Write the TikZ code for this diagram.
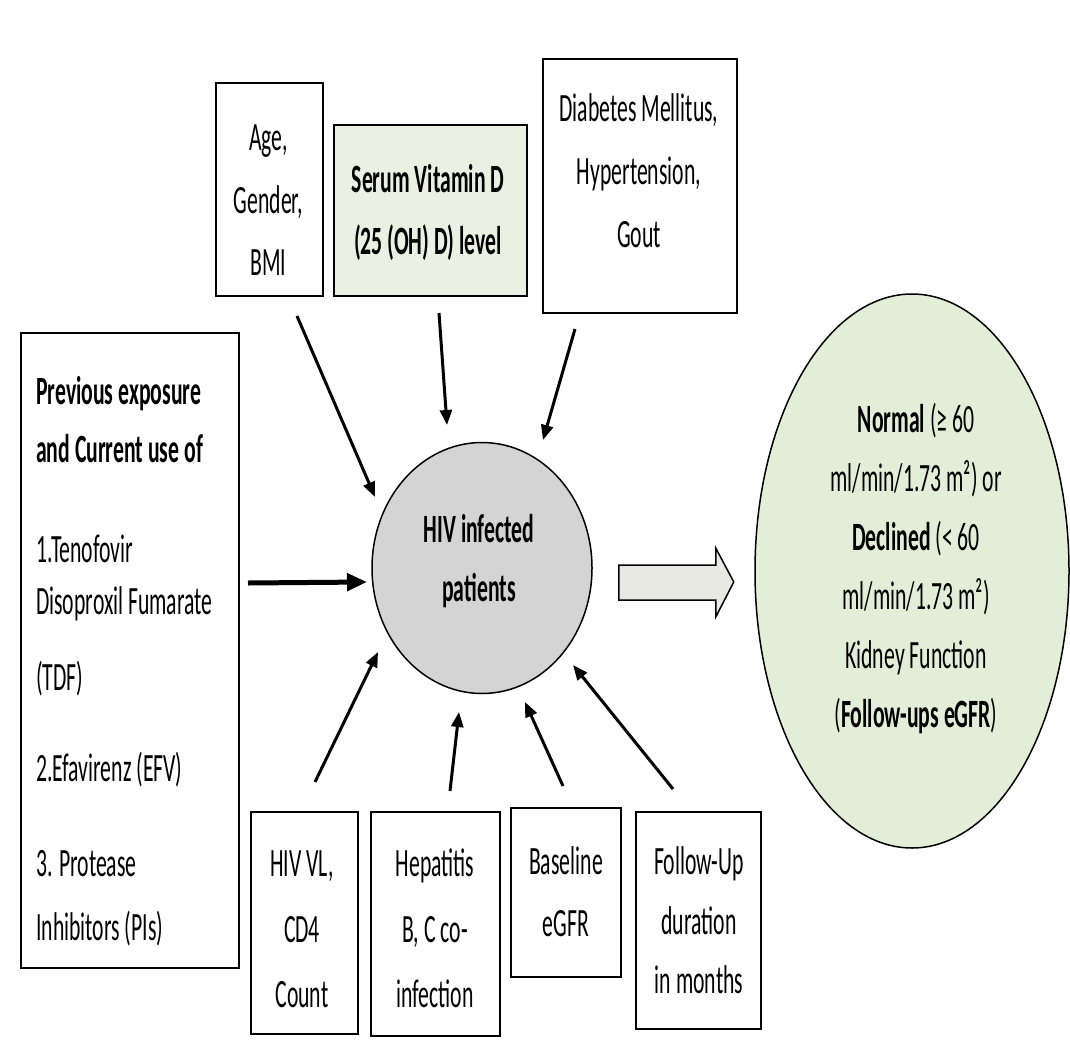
\documentclass[tikz,border=0pt]{standalone}
\usepackage{fontspec}
\setmainfont{Carlito}
\usepackage{graphicx}
\usetikzlibrary{shapes.geometric,arrows.meta,calc}
\definecolor{patfill}{HTML}{D4D4D4}
\definecolor{serumfill}{HTML}{EBF1E2}
\definecolor{kidfill}{HTML}{E3EED9}
\definecolor{hollowfill}{HTML}{E8E9E3}
\newcommand\tallbox[1]{\scalebox{1}[1.85]{#1}}
\newcommand\tblock[1]{\tallbox{\begin{tabular}{@{}c@{}}#1\end{tabular}}}
\tikzset{
  box/.style={draw=black, line width=2pt, inner sep=0pt, rectangle},
  txt/.style={inner sep=0pt, font=\fontsize{21.7}{#1}\selectfont},
  txt/.default=33.5,
  lline/.style={inner sep=0pt, anchor=base west, font=\fontsize{21.7}{26}\selectfont},
  arr/.style={line width=3pt, -{Triangle[length=15pt,width=12pt]}},
  bigarr/.style={line width=5pt, -{Triangle[length=20pt,width=17pt]}},
  bubble/.style={ellipse, draw=black, line width=1.5pt, inner sep=0pt}
}
\begin{document}
\begin{tikzpicture}[x=1pt,y=-1pt]
\fill[white] (0,0) rectangle (1070,1046);
\useasboundingbox (0,0) rectangle (1070,1046);

% boxes
\node[box, minimum width=107pt, minimum height=213pt] (age) at (269.5,189.5) {};
\node[box, fill=serumfill, minimum width=193pt, minimum height=171pt] (serum) at (430.5,210.5) {};
\node[box, minimum width=194pt, minimum height=254pt] (diab) at (640,186) {};
\node[box, minimum width=218pt, minimum height=635pt] (prev) at (130,650.5) {};
\node[box, minimum width=107pt, minimum height=222pt] (vl) at (304.5,923) {};
\node[box, minimum width=129pt, minimum height=224pt] (hep) at (435.5,924) {};
\node[box, minimum width=110pt, minimum height=169pt] (base) at (566,892.5) {};
\node[box, minimum width=125pt, minimum height=217pt] (fu) at (698.5,920.5) {};

% ellipses
\node[bubble, fill=patfill, minimum width=220pt, minimum height=251pt] (pat) at (482,568) {};
\node[bubble, fill=kidfill, minimum width=314pt, minimum height=554pt] (kid) at (912,571) {};

% texts
\node[txt=33.8] (agetxt) at (268.5,200.5) {\tblock{Age,\\Gender,\\BMI}};
\node[txt=33.5] (serumtxt) at (428,211) {\tblock{\textbf{Serum Vitamin D}\\\textbf{(25 (OH) D) level}}};
\node[txt=34] (diabtxt) at (639,172) {\tblock{Diabetes Mellitus,\\Hypertension,\\Gout}};
\node[txt=32.4] (pattxt) at (479,560) {\tblock{\textbf{HIV infected}\\\textbf{patients}}};
\node[txt=31.9] (kidtxt) at (916,568.5) {\tblock{\textbf{Normal} (≥ 60\\ml/min/1.73 m²) or\\\textbf{Declined} (< 60\\ml/min/1.73 m²)\\Kidney Function\\(\textbf{Follow-ups eGFR})}};
\node[txt=35.4] (vltxt) at (302,929) {\tblock{HIV VL,\\CD4\\Count}};
\node[txt=35.4] (heptxt) at (435,929) {\tblock{Hepatitis\\B, C co-\\infection}};
\node[txt=33.5] (basetxt) at (566,893) {\tblock{Baseline\\eGFR}};
\node[txt=32.4] (futxt) at (699,922) {\tblock{Follow-Up\\duration\\in months}};

\node[lline] (p1) at (36,404) {\tallbox{\textbf{Previous exposure}}};
\node[lline] (p2) at (36,462) {\tallbox{\textbf{and Current use of}}};
\node[lline] (p3) at (36,562) {\tallbox{1.Tenofovir}};
\node[lline] (p4) at (36,614) {\tallbox{Disoproxil Fumarate}};
\node[lline] (p5) at (36,690) {\tallbox{(TDF)}};
\node[lline] (p6) at (36,781) {\tallbox{2.Efavirenz (EFV)}};
\node[lline] (p7) at (36,876) {\tallbox{3. Protease}};
\node[lline] (p8) at (36,940) {\tallbox{Inhibitors (PIs)}};

% arrows into the patients node
\draw[arr] ($(age.south)+(27.5,19)$) -- ($(pat.center)+(-107,-71)$);
\draw[arr] ($(serum.south)+(8.5,16)$) -- ($(pat.center)+(-35,-143)$);
\draw[arr] ($(diab.south)+(-65,15)$) -- ($(pat.center)+(61,-128)$);
\draw[bigarr] ($(prev.east)+(8,-67.5)$) -- ($(pat.center)+(-115,14)$);
\draw[arr] ($(vl.north)+(10.5,-29)$) -- ($(pat.center)+(-104,84)$);
\draw[arr] ($(hep.north)+(14.5,-20)$) -- ($(pat.center)+(-23,144)$);
\draw[arr] ($(base.north)+(-3,-21)$) -- ($(pat.center)+(43,134)$);
\draw[arr] ($(fu.north)+(-25.5,-22)$) -- ($(pat.center)+(91,97)$);

% hollow block arrow to the outcome
\draw[line width=1.5pt, fill=hollowfill, line join=miter]
  ($(pat.east)+(26,-3)$) -- ++(97,0) -- ++(0,-17) -- ++(18,34) -- ++(-18,35) -- ++(0,-17) -- ++(-97,0) -- cycle;
\end{tikzpicture}
\end{document}
